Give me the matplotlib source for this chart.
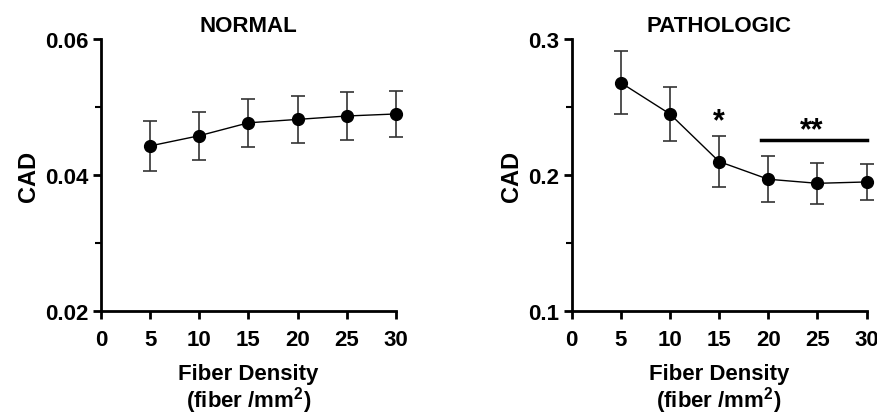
import matplotlib
matplotlib.use('agg')
import matplotlib.pyplot as plt
from matplotlib.ticker import MultipleLocator, FormatStrFormatter

plt.rcParams['font.family'] = ['Liberation Sans', 'DejaVu Sans']
plt.rcParams['font.weight'] = 'bold'
plt.rcParams['mathtext.fontset'] = 'custom'
plt.rcParams['mathtext.bf'] = 'Liberation Sans:bold'

density = [5, 10, 15, 20, 25, 30]

normal_cad = [0.0443, 0.0458, 0.0477, 0.0482, 0.0487, 0.0490]
normal_err = [0.0037, 0.0035, 0.0035, 0.0034, 0.0035, 0.0034]

patho_cad = [0.268, 0.245, 0.210, 0.197, 0.194, 0.195]
patho_err = [0.023, 0.020, 0.019, 0.017, 0.015, 0.0135]

titles = ["NORMAL", "PATHOLOGIC"]
xticks = [0, 5, 10, 15, 20, 25, 30]

fig = plt.figure(figsize=(8.78, 4.14), dpi=100)
ax1 = fig.add_axes([0.115, 0.246, 0.336, 0.657])
ax2 = fig.add_axes([0.651, 0.246, 0.336, 0.657])


def style(ax, title, ylim, yticks, minor):
    ax.set_xlim(0, 30)
    ax.set_ylim(*ylim)
    ax.set_xticks(xticks)
    ax.set_yticks(yticks)
    ax.yaxis.set_minor_locator(MultipleLocator(minor))
    for s in ['top', 'right']:
        ax.spines[s].set_visible(False)
    for s in ['left', 'bottom']:
        ax.spines[s].set_linewidth(2.0)
    ax.tick_params(which='major', length=6, width=2.0, labelsize=16, pad=3)
    ax.tick_params(which='minor', length=4, width=1.5)
    ax.tick_params(axis='x', which='minor', length=0)
    ax.tick_params(axis='x', pad=7)
    for lab in ax.get_xticklabels() + ax.get_yticklabels():
        lab.set_fontweight('bold')
    ax.set_title(title, fontsize=16, fontweight='bold', pad=6)
    ax.set_ylabel("CAD", fontsize=17, fontweight='bold', labelpad=4)
    ax.set_xlabel("Fiber Density\n(fiber /mm$^\\mathbf{2}$)", fontsize=16,
                  fontweight='bold', labelpad=9, linespacing=1.0)


def draw(ax, y, err):
    ax.errorbar(density, y, yerr=err, fmt='-o', color='black', ms=8.5,
                lw=1.0, elinewidth=1.2, ecolor='#333333', capsize=5,
                capthick=1.2, clip_on=False, zorder=3)


draw(ax1, normal_cad, normal_err)
style(ax1, titles[0], (0.02, 0.06), [0.02, 0.04, 0.06], 0.01)
ax1.yaxis.set_major_formatter(FormatStrFormatter('%.2f'))

draw(ax2, patho_cad, patho_err)
style(ax2, titles[1], (0.1, 0.3), [0.1, 0.2, 0.3], 0.05)
ax2.yaxis.set_major_formatter(FormatStrFormatter('%.1f'))

# significance marks
ax2.text(15, 0.240, "*", ha='center', va='center', fontsize=22, fontweight='bold')
ax2.plot([19.3, 30], [0.2256, 0.2256], color='black', lw=2.5, clip_on=False)
ax2.text(24.4, 0.233, "**", ha='center', va='center', fontsize=22, fontweight='bold')

fig.savefig("out.png", dpi=100)
